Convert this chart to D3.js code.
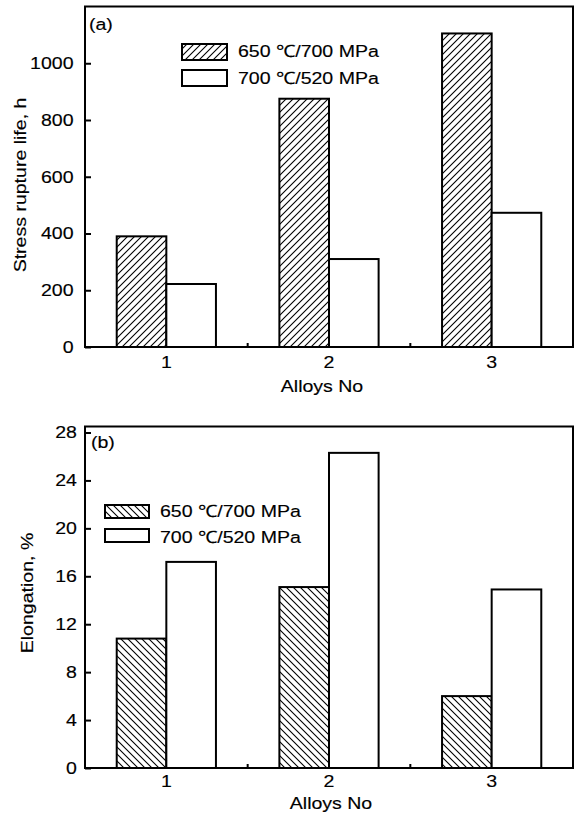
<!DOCTYPE html>
<html>
<head>
<meta charset="utf-8">
<script src="https://cdn.jsdelivr.net/npm/d3@7"></script>
<style>
  body { margin: 0; background: #fff; }
  svg { display: block; }
  text { font-family: "Liberation Sans", Arial, sans-serif; fill: #000; stroke: #000; stroke-width: 0.15px; }
</style>
</head>
<body>
<div id="chart"></div>
<script>
const alloys = ['1', '2', '3'];
const seriesLabels = ['650  \u2103/700 MPa', '700  \u2103/520 MPa'];

// stress rupture life, h
const rupture650 = [390, 875, 1105];
const rupture700 = [222, 310, 473];
const ruptureTicks = [0, 200, 400, 600, 800, 1000];

// elongation, %
const elong650 = [10.8, 15.1, 6.0];
const elong700 = [17.2, 26.3, 14.9];
const elongTicks = [0, 4, 8, 12, 16, 20, 24, 28];

const STRETCH = 1.15;   // the scanned font is wider than Arial
const FONT = 17;

const svg = d3.select('#chart').append('svg')
  .attr('width', 581).attr('height', 813);

// hatch patterns
const defs = svg.append('defs');
function hatch(id, forward) {
  var s = 7;
  var p = defs.append('pattern').attr('id', id)
    .attr('patternUnits', 'userSpaceOnUse')
    .attr('width', s).attr('height', s);
  p.append('rect').attr('width', s).attr('height', s).attr('fill', '#fff');
  var d = forward
    ? `M0,${s} L${s},0 M${-s / 2},${s / 2} L${s / 2},${-s / 2} M${s / 2},${s * 1.5} L${s * 1.5},${s / 2}`
    : `M0,0 L${s},${s} M${-s / 2},${s / 2} L${s / 2},${s * 1.5} M${s / 2},${-s / 2} L${s * 1.5},${s / 2}`;
  p.append('path').attr('d', d).attr('stroke', '#000').attr('stroke-width', 1.1);
}
hatch('hatchA', true);
hatch('hatchB', false);

// text helper, stretched horizontally around its anchor
function label(g, x, y, str, anchor, rotate) {
  return g.append('text')
    .attr('transform', `translate(${x},${y})` + (rotate ? ` rotate(${rotate})` : '') + ` scale(${STRETCH},1)`)
    .attr('text-anchor', anchor || 'start')
    .style('font-size', FONT + 'px')
    .text(str);
}

function drawPanel(cfg) {
  var left = 85, right = 573;
  var g = svg.append('g');

  var x0 = d3.scaleBand().domain(alloys).range([left, right])
    .paddingInner(0.39).paddingOuter(0.195);
  var x1 = d3.scaleBand().domain([0, 1]).range([0, x0.bandwidth()]);
  var y = d3.scaleLinear().domain(cfg.domain).range([cfg.bottom, cfg.top]);

  // bars
  var series = [cfg.a, cfg.b];
  series.forEach(function (vals, si) {
    g.selectAll('rect.s' + si).data(vals).join('rect')
      .attr('class', 's' + si)
      .attr('x', (d, i) => x0(alloys[i]) + x1(si))
      .attr('y', d => y(d))
      .attr('width', x1.bandwidth())
      .attr('height', d => y(0) - y(d))
      .attr('fill', si === 0 ? `url(#${cfg.pattern})` : '#fff')
      .attr('stroke', '#000').attr('stroke-width', 2);
  });

  // frame
  g.append('rect')
    .attr('x', left).attr('y', cfg.top)
    .attr('width', right - left).attr('height', cfg.bottom - cfg.top)
    .attr('fill', 'none').attr('stroke', '#000').attr('stroke-width', 2);

  // y axis, ticks inside
  var ya = g.append('g').attr('transform', `translate(${left},0)`)
    .call(d3.axisLeft(y).tickValues(cfg.ticks).tickFormat(d3.format('d'))
      .tickSize(-6).tickPadding(cfg.yPad));
  ya.select('.domain').remove();
  ya.selectAll('line').attr('stroke-width', 2);
  ya.selectAll('text').attr('font-size', null).style('font-size', FONT + 'px')
    .attr('transform', `scale(${STRETCH},1)`);

  // x axis labels
  var xa = g.append('g').attr('transform', `translate(0,${cfg.bottom})`)
    .call(d3.axisBottom(x0).tickSize(0).tickPadding(cfg.xPad));
  xa.select('.domain').remove();
  xa.selectAll('text').attr('font-size', null).style('font-size', FONT + 'px')
    .attr('transform', `scale(${STRETCH},1)`);

  // small inward ticks between the groups
  var step = x0.step();
  alloys.slice(0, -1).forEach(function (a) {
    var bx = x0(a) + x0.bandwidth() + step * x0.paddingInner() / 2;
    g.append('line').attr('x1', bx).attr('x2', bx)
      .attr('y1', cfg.bottom).attr('y2', cfg.bottom - 4)
      .attr('stroke', '#000').attr('stroke-width', 2);
  });

  // titles
  label(g, cfg.xTitle[0], cfg.xTitle[1], 'Alloys No', 'middle');
  label(g, cfg.yTitle[0], cfg.yTitle[1], cfg.yText, 'middle', -90);
  label(g, cfg.tag[0], cfg.tag[1], cfg.tagText, 'start');

  // legend
  cfg.legend.forEach(function (row, i) {
    g.append('rect')
      .attr('x', row[0]).attr('y', row[1])
      .attr('width', cfg.legendBox[0]).attr('height', cfg.legendBox[1])
      .attr('fill', i === 0 ? `url(#${cfg.pattern})` : '#fff')
      .attr('stroke', '#000').attr('stroke-width', 2);
    label(g, row[2], row[3], seriesLabels[i], 'start');
  });
}

drawPanel({
  top: 6.5, bottom: 347, domain: [0, 1200], ticks: ruptureTicks,
  a: rupture650, b: rupture700, pattern: 'hatchA',
  yPad: 10, xPad: 9,
  xTitle: [322, 392], yTitle: [26, 185], yText: 'Stress rupture life, h',
  tag: [89, 30], tagText: '(a)',
  legendBox: [45, 16],
  legend: [[182, 44, 238, 57], [182, 70, 238, 84]]
});

drawPanel({
  top: 426.5, bottom: 768, domain: [0, 28.5], ticks: elongTicks,
  a: elong650, b: elong700, pattern: 'hatchB',
  yPad: 7, xPad: 7,
  xTitle: [331, 809], yTitle: [33, 593], yText: 'Elongation, %',
  tag: [91, 448], tagText: '(b)',
  legendBox: [44, 13],
  legend: [[105, 505, 160, 517], [105, 529, 160, 543]]
});
</script>
</body>
</html>
